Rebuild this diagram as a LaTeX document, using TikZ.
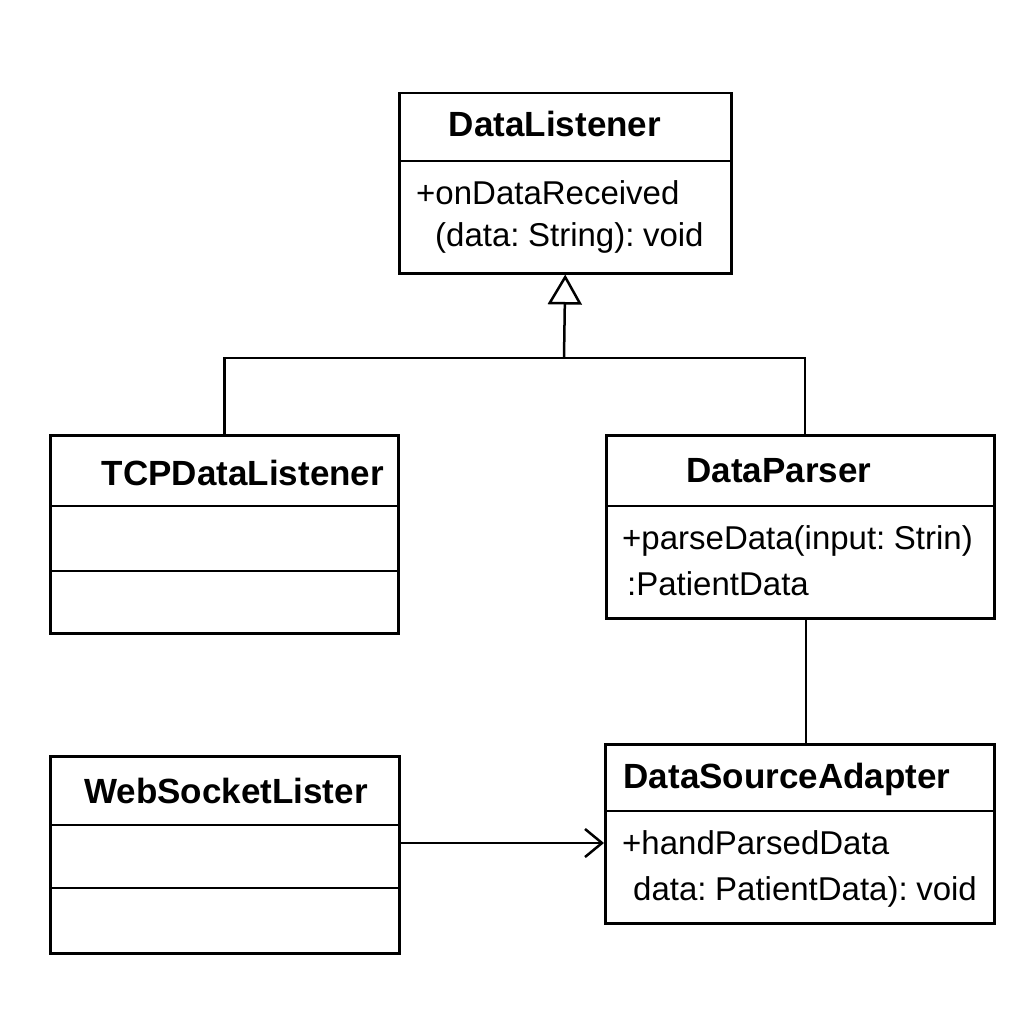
\documentclass[tikz,border=0pt]{standalone}
\usepackage{fontspec}
\setmainfont{Liberation Sans}[WordSpace=0.6]
\usetikzlibrary{arrows.meta}
\tikzset{
  cls/.style={draw=black, line width=2.5pt, rectangle, inner sep=0pt, anchor=north west, fill=none},
  divider/.style={line width=2.5pt},
  title/.style={font=\bfseries\fontsize{35}{42}\selectfont, inner sep=0pt, anchor=base},
  body/.style={font=\fontsize{33}{38}\selectfont, inner sep=0pt, anchor=base west},
  conn/.style={line width=2.5pt},
  inherit/.style={conn, -{Triangle[open, length=30pt, width=34pt, line width=2.5pt]}},
  assoc/.style={conn, -{Straight Barb[length=17pt, width=28pt, line width=2.5pt]}},
}
\begin{document}
\begin{tikzpicture}[x=1pt, y=-1pt]
\useasboundingbox[fill=white] (0,0) rectangle (1024,1024);

% DataListener
\node[cls, minimum width=332pt, minimum height=180pt] (dl) at (398,92) {};
\draw[divider] (398,161) -- (730,161);
\node[title] (dlt) at (555,137) {DataListener};
\node[body] (dlb1) at (416,205) {+onDataReceived};
\node[body] (dlb2) at (435,247) {(data: String): void};

% TCPDataListener
\node[cls, minimum width=348pt, minimum height=198pt] (tcp) at (49,434) {};
\draw[divider] (49,506) -- (397,506);
\draw[divider] (49,571) -- (397,571);
\node[title] (tcpt) at (243,485) {TCPDataListener};

% DataParser
\node[cls, minimum width=388pt, minimum height=183pt] (dp) at (605,434) {};
\draw[divider] (605,506) -- (993,506);
\node[title] (dpt) at (779,482) {DataParser};
\node[body] (dpb1) at (622,549) {+parseData(input: Strin)};
\node[body] (dpb2) at (627,595) {:PatientData};

% DataSourceAdapter
\node[cls, minimum width=389pt, minimum height=179pt] (dsa) at (604,743) {};
\draw[divider] (604,811) -- (993,811);
\node[title] (dsat) at (787,788) {DataSourceAdapter};
\node[body] (dsab1) at (622,854) {+handParsedData};
\node[body] (dsab2) at (633,900) {data: PatientData): void};

% WebSocketLister
\node[cls, minimum width=349pt, minimum height=197pt] (ws) at (49,755) {};
\draw[divider] (49,825) -- (398,825);
\draw[divider] (49,888) -- (398,888);
\node[title] (wst) at (226,803) {WebSocketLister};

% Inheritance
\coordinate (j) at (564,358);
\coordinate (dptop) at (805,434);
\coordinate (dpbot) at (806,617);
\coordinate (dsatop) at (806,743);
\draw[inherit] (j) -- (dl.south);
\draw[conn] (tcp.north) |- (j) -| (dptop);

% DataParser -- DataSourceAdapter
\draw[conn] (dpbot) -- (dsatop);

% WebSocketLister -> DataSourceAdapter
\draw[assoc] (ws.east |- 0,843) -- (dsa.west |- 0,843);
\end{tikzpicture}
\end{document}
